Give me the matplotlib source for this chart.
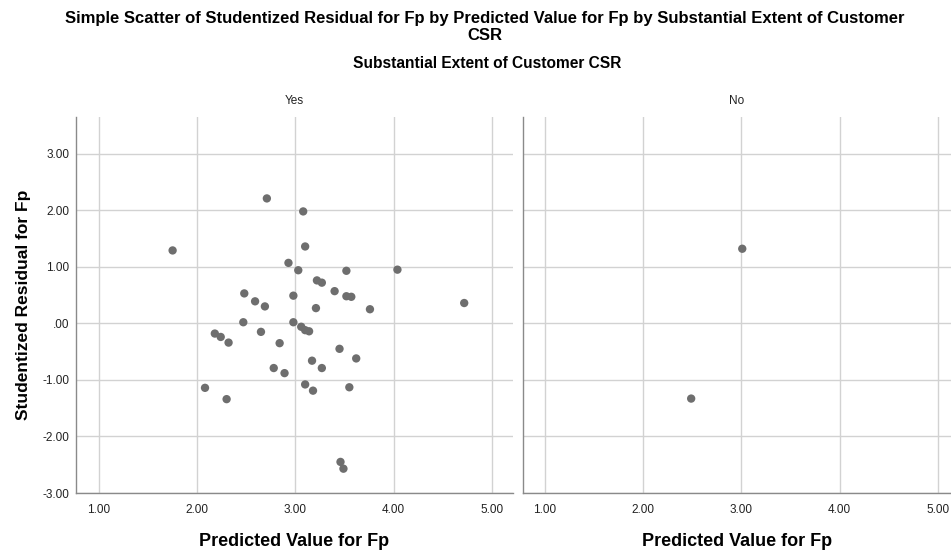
import matplotlib
matplotlib.use("Agg")
import matplotlib.pyplot as plt
from matplotlib.ticker import FuncFormatter

plt.rcParams['font.family'] = ['Liberation Sans', 'DejaVu Sans']

panels = ["Yes", "No"]
yes_x = [1.75, 2.71, 3.08, 3.10, 2.93, 3.03, 3.22, 3.27, 3.52, 3.40, 3.52, 3.57,
         2.98, 3.21, 2.48, 2.59, 2.69, 2.47, 2.98, 3.06, 3.10, 3.14, 2.18, 2.24,
         2.32, 2.65, 2.84, 3.45, 3.17, 3.76, 3.62, 3.27, 2.78, 2.89, 3.10, 3.18,
         3.55, 3.46, 3.49, 2.08, 2.30, 4.04, 4.72]
yes_y = [1.29, 2.21, 1.98, 1.36, 1.07, 0.94, 0.76, 0.72, 0.93, 0.57, 0.48, 0.47,
         0.49, 0.27, 0.53, 0.39, 0.30, 0.02, 0.02, -0.06, -0.12, -0.14, -0.18, -0.24,
         -0.34, -0.15, -0.35, -0.45, -0.66, 0.25, -0.62, -0.79, -0.79, -0.88, -1.08, -1.19,
         -1.13, -2.45, -2.57, -1.14, -1.34, 0.95, 0.36]
no_x = [3.01, 2.49]
no_y = [1.32, -1.33]
x_ticks = [1, 2, 3, 4, 5]
y_ticks = [-3, -2, -1, 0, 1, 2, 3]

title_lines = ["Simple Scatter of Studentized Residual for Fp by Predicted Value for Fp by Substantial Extent of Customer",
               "CSR"]
facet_title = "Substantial Extent of Customer CSR"
xlabel = "Predicted Value for Fp"
ylabel = "Studentized Residual for Fp"

W, H = 951, 550
fig = plt.figure(figsize=(W / 100, H / 100), dpi=100)

def fmt(v, pos):
    s = "%.2f" % v
    if s.startswith("0."):
        s = s[1:]
    if s.startswith("-0."):
        s = "-" + s[2:]
    return s

axL = fig.add_axes([76 / W, 57 / H, (513 - 76) / W, (493 - 117) / H])
axR = fig.add_axes([523 / W, 57 / H, (951 - 523) / W, (493 - 117) / H])

data = [(yes_x, yes_y), (no_x, no_y)]
xlims = [(0.766, 5.217), (0.778, 5.135)]
for i, ax in enumerate([axL, axR]):
    xs, ys = data[i]
    ax.set_xlim(*xlims[i])
    ax.set_ylim(-3.0, 3.65)
    ax.set_xticks(x_ticks)
    ax.set_yticks(y_ticks)
    ax.xaxis.set_major_formatter(FuncFormatter(fmt))
    ax.yaxis.set_major_formatter(FuncFormatter(fmt))
    ax.grid(True, color='#d2d2d2', linewidth=1.0)
    ax.set_axisbelow(True)
    ax.scatter(xs, ys, s=36, color='#6e6e6e', edgecolors='none', zorder=3)
    for sp in ['top', 'right']:
        ax.spines[sp].set_visible(False)
    for sp in ['left', 'bottom']:
        ax.spines[sp].set_color('#8a8a8a')
        ax.spines[sp].set_linewidth(1.0)
    ax.tick_params(length=0, labelsize=8.5, colors='#222222', pad=8)
    ax.tick_params(axis='y', pad=5)
    ax.set_title(panels[i], fontsize=8.5, pad=9, color='#222222')
    ax.set_xlabel(xlabel, fontsize=13, fontweight='bold', labelpad=12)
    ax.patch.set_alpha(0)

axR.tick_params(axis='y', labelleft=False)
axL.set_ylabel(ylabel, fontsize=12.5, fontweight='bold', labelpad=8)

fig.text(485 / W, 1 - 19 / H, title_lines[0], ha='center', va='center', fontsize=12,
         fontweight='bold')
fig.text(485 / W, 1 - 36 / H, title_lines[1], ha='center', va='center', fontsize=12,
         fontweight='bold')
fig.text(487 / W, 1 - 63 / H, facet_title, ha='center', va='center', fontsize=11.2,
         fontweight='bold')

fig.savefig("out.png", dpi=100)
